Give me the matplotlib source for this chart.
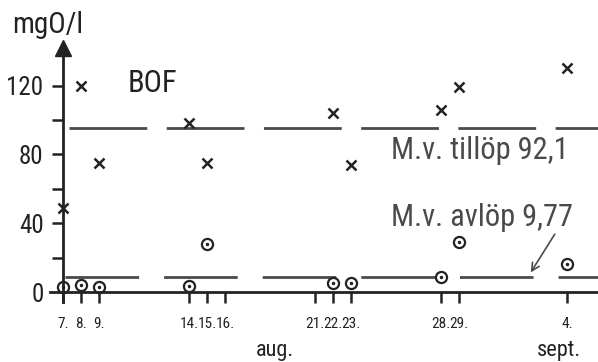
import matplotlib
matplotlib.use("Agg")
import matplotlib.pyplot as plt
from matplotlib import font_manager

# pick a narrow font if one is installed
installed = {f.name for f in font_manager.fontManager.ttflist}
family = 'DejaVu Sans'
for name in ['Liberation Sans Narrow', 'DejaVu Sans Condensed', 'Roboto Condensed']:
    if name in installed:
        family = name
        break
plt.rcParams['font.family'] = [family, 'DejaVu Sans']
plt.rcParams['lines.scale_dashes'] = False

# BOF data, aug/sept (day 35 = 4 sept)
days = [7, 8, 9, 14, 15, 22, 23, 28, 29, 35]
inflow = [49, 120, 75, 98, 75, 104, 74, 106, 119, 130]   # tillöp, x
outflow = [3, 4, 3, 3.5, 28, 5, 5, 9, 29, 16]            # avlöp, circles
mean_in_level = 95.3
mean_out_level = 9.0
mean_in_text = 'M.v. tillöp 92,1'
mean_out_text = 'M.v. avlöp 9,77'

tick_days = [7, 8, 9, 14, 15, 16, 21, 22, 23, 28, 29, 35]
tick_labels = ['7.', '8.', '9.', '14.', '15.', '16.', '21.', '22.', '23.', '28.', '29.', '4.']

ink = '#222222'
grey = '#4a4a4a'

fig = plt.figure(figsize=(5.98, 3.62), dpi=100)
ax = fig.add_axes([0, 0, 1, 1])
ax.set_xlim(3.5, 36.72)
ax.set_ylim(-40.7, 169.8)

# axes through origin
ax.spines['left'].set_position(('data', 7))
ax.spines['bottom'].set_position(('data', 0))
ax.spines['left'].set_bounds(-6, 137)
ax.spines['bottom'].set_bounds(6.28, 36.72)
for s in ['top', 'right']:
    ax.spines[s].set_visible(False)
for s in ['left', 'bottom']:
    ax.spines[s].set_color(ink)
    ax.spines[s].set_linewidth(2)
ax.plot(7, 142, marker='^', color=ink, markersize=11, clip_on=False)

ax.set_xticks(tick_days)
ax.set_xticklabels(tick_labels)
ax.tick_params(axis='x', direction='out', length=8, width=1.8, color=ink,
               labelsize=11, labelcolor=ink, pad=10)
ax.set_yticks([0, 40, 80, 120])
ax.set_yticklabels(['0', '40', '80', '120'])
ax.set_yticks([20, 60, 100], minor=True)
ax.tick_params(axis='y', which='both', direction='out', length=8, width=1.8,
               color=ink, labelsize=18, labelcolor=ink, pad=6)
ax.yaxis.get_major_ticks()[0].tick1line.set_visible(False)

# mean lines
ax.hlines(mean_in_level, 7.33, 36.72, color=grey, lw=2, linestyles=[(0, (56, 14))])
ax.hlines(mean_out_level, 7.1, 36.72, color=grey, lw=2, linestyles=[(0, (53, 18))])

# measurements
ax.plot(days, inflow, linestyle='none', marker='x', color=ink, markersize=7,
        markeredgewidth=1.8, clip_on=False)
ax.plot(days, outflow, linestyle='none', marker='o', markerfacecolor='white',
        markeredgecolor=ink, markersize=8, markeredgewidth=1.6, clip_on=False)
ax.plot(days, outflow, linestyle='none', marker='.', color=ink, markersize=3)

# texts
ax.text(4.17, 155, 'mgO/l', fontsize=21, color=ink, va='center', ha='left')
ax.text(10.6, 121, 'BOF', fontsize=22, color=ink, va='center', ha='left')
ax.text(25.2, 82.5, mean_in_text, fontsize=22, color=grey, va='center', ha='left')
ax.text(25.2, 43.5, mean_out_text, fontsize=22, color=grey, va='center', ha='left')
ax.annotate('', xy=(32.9, mean_out_level + 1), xytext=(34.4, 35),
            arrowprops=dict(arrowstyle='->', color=grey, lw=1.2, mutation_scale=14))
ax.text(17.7, -34, 'aug.', fontsize=16, color=ink, va='center', ha='left')
ax.text(33.3, -34, 'sept.', fontsize=16, color=ink, va='center', ha='left')

fig.savefig('out.png', dpi=100)
